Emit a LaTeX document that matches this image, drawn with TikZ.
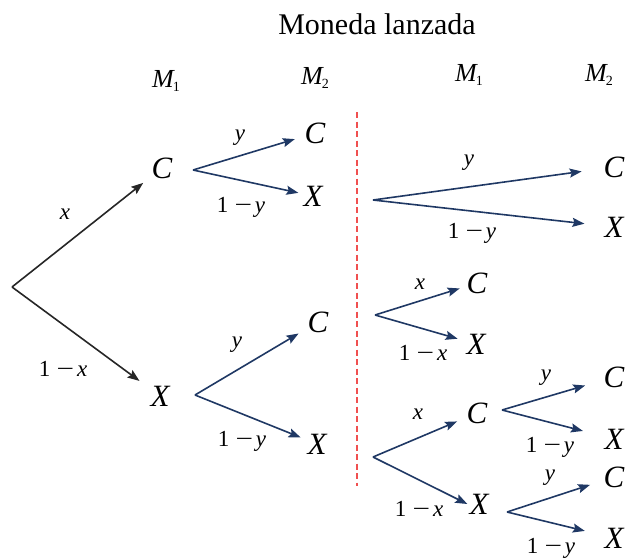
\documentclass[tikz,border=0pt]{standalone}
\usepackage{fontspec}
\setmainfont{Liberation Serif}
\usetikzlibrary{arrows.meta}
\definecolor{navy}{RGB}{31,56,100}
\definecolor{dashred}{RGB}{240,80,80}
\newcommand\Msub[1]{\textit{M}\kern-2pt\raisebox{-0.18em}{\fontsize{14}{14}\selectfont #1}}
\newcommand\omx[1]{1\hspace{0.28em}\scalebox{1.35}[1]{−}\hspace{0.12em}\textit{#1}}
\begin{document}
\begin{tikzpicture}[x=1pt,y=-1pt,
  letter/.style={font=\fontsize{31}{31}\selectfont\itshape, inner sep=2pt},
  lab/.style={font=\fontsize{23}{23}\selectfont, inner sep=0pt},
  mlab/.style={font=\fontsize{26}{26}\selectfont, inner sep=0pt},
  arrk/.style={-{Stealth[length=12pt,width=9pt,inset=2pt]}, line width=1.6pt, black!85},
  arrn/.style={-{Stealth[length=12pt,width=9pt,inset=2pt]}, line width=1.6pt, navy},
  sep/.style={dashred, line width=1.9pt, dash pattern=on 6pt off 3.5pt}]
\useasboundingbox (0,0) rectangle (627,558);
\node[font=\fontsize{30}{30}\selectfont, inner sep=0pt] (title) at (377,24) {Moneda lanzada};
\node[mlab] (m1a) at (166,81) {\Msub{1}};
\node[mlab] (m2a) at (315,78) {\Msub{2}};
\node[mlab] (m1b) at (469,75) {\Msub{1}};
\node[mlab] (m2b) at (599,75) {\Msub{2}};
% separator
\coordinate (st) at (357,112);
\coordinate (sb) at (357,486);
\draw[sep] (st) -- (sb);
% left tree
\coordinate (v0) at (12,287);
\node[letter] (C1) at (162,168) {C};
\node[letter] (X1) at (160,396) {X};
\draw[arrk, shorten >=8pt] (v0) -- (C1);
\draw[arrk, shorten >=11pt] (v0) -- (X1);
\node[lab] (lx1) at (65,214) {\textit{x}};
\node[lab] (lx2) at (63,369) {\omx{x}};
\coordinate (v1) at (193,170);
\node[letter] (C2a) at (315,133) {C};
\node[letter] (X2a) at (313,196) {X};
\draw[arrn, shorten >=8pt] (v1) -- (C2a);
\draw[arrn, shorten >=3pt] (v1) -- (X2a);
\node[lab] (ly1) at (240,138) {\textit{y}};
\node[lab] (ly2) at (241,207) {\omx{y}};
\coordinate (v2) at (195,395);
\node[letter] (C2b) at (318,322) {C};
\node[letter] (X2b) at (317,444) {X};
\draw[arrn, shorten >=8pt] (v2) -- (C2b);
\draw[arrn, shorten >=5pt] (v2) -- (X2b);
\node[lab] (ly3) at (237,345) {\textit{y}};
\node[lab] (ly4) at (242,441) {\omx{y}};
% right tree
\coordinate (w1) at (373,200);
\node[letter] (R1C) at (614,167) {C};
\node[letter] (R1X) at (614,227) {X};
\draw[arrn, shorten >=20pt] (w1) -- (R1C);
\draw[arrn, shorten >=18pt] (w1) -- (R1X);
\node[lab] (ry1) at (469,163) {\textit{y}};
\node[lab] (ry2) at (472,233) {\omx{y}};
\coordinate (w2) at (375,315);
\node[letter] (R2C) at (477,283) {C};
\node[letter] (R2X) at (476,344) {X};
\draw[arrn, shorten >=5pt] (w2) -- (R2C);
\draw[arrn, shorten >=7pt] (w2) -- (R2X);
\node[lab] (rx1) at (420,284) {\textit{x}};
\node[lab] (rx2) at (423,353) {\omx{x}};
\coordinate (w3) at (373,457);
\node[letter] (R3C) at (477,413) {C};
\node[letter] (R3X) at (479,504) {X};
\draw[arrn, shorten >=8pt] (w3) -- (R3C);
\draw[arrn] (w3) -- (R3X.west);
\node[lab] (rx3) at (418,414) {\textit{x}};
\node[lab] (rx4) at (419,509) {\omx{x}};
\coordinate (w4) at (502,410);
\node[letter] (R4C) at (614,377) {C};
\node[letter] (R4X) at (614,439) {X};
\draw[arrn, shorten >=17pt] (w4) -- (R4C);
\draw[arrn, shorten >=20pt] (w4) -- (R4X);
\node[lab] (ry3) at (546,378) {\textit{y}};
\node[lab] (ry4) at (550,447) {\omx{y}};
\coordinate (w5) at (507,512);
\node[letter] (R5C) at (614,477) {C};
\node[letter] (R5X) at (614,538) {X};
\draw[arrn, shorten >=12pt] (w5) -- (R5C);
\draw[arrn, shorten >=18pt] (w5) -- (R5X);
\node[lab] (ry5) at (550,478) {\textit{y}};
\node[lab] (ry6) at (551,548) {\omx{y}};
\end{tikzpicture}
\end{document}
